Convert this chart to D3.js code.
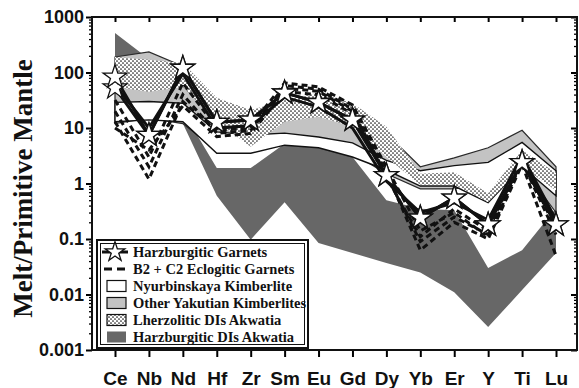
<!DOCTYPE html>
<html>
<head>
<meta charset="utf-8">
<script src="https://cdn.jsdelivr.net/npm/d3@7"></script>
<style>
  body { margin: 0; background: #fff; }
  svg { display: block; }
</style>
</head>
<body>
<svg id="chart"></svg>
<script>
// element order along the x axis
const elements = ["Ce", "Nb", "Nd", "Hf", "Zr", "Sm", "Eu", "Gd", "Dy", "Yb", "Er", "Y", "Ti", "Lu"];
const yTicks = [0.001, 0.01, 0.1, 1, 10, 100, 1000];
const yTickLabels = ["0.001", "0.01", "0.1", "1", "10", "100", "1000"];

// fields (upper / lower envelopes)
const harzDIsUpper = [515, 175, 20, 1.9, 1.9, 5.2, 4.4, 3.0, 0.5, 0.35, 0.33, 0.03, 0.063, 0.36];
const harzDIsLower = [15, 20, 12, 0.6, 0.097, 0.46, 0.085, 0.056, 0.037, 0.025, 0.011, 0.0026, 0.012, 0.056];
const otherYakUpper = [190, 235, 130, 25, 15, 25, 28, 20, 8, 2.0, 2.9, 4.4, 9.1, 2.0];
const otherYakLower = [12, 15, 12, 4, 4, 6, 5, 3.5, 1.5, 0.8, 0.8, 1.0, 2.0, 0.3];
const nyurbUpper = [29, 30, 28, 8.5, 7.5, 8.1, 6.9, 5.4, 2.6, 1.7, 2.1, 2.4, 5.5, 1.7];
const nyurbLower = [13, 14, 13, 3.5, 3.5, 4.9, 4.4, 3.0, 1.75, 0.9, 0.9, 0.45, 2.0, 0.6];
const lherzUpper = [190, 170, 148, 35, 21, 32, 43, 28, 10.5, 1.5, 1.6, 0.67, 4.0, 1.55];
const lherzLower = [55, 45, 55, 13, 4.6, 13, 16, 10.5, 3, 0.95, 0.95, 0.46, 2.0, 0.75];

// harzburgitic garnets (solid, first two carry stars)
const harzGt1 = [83, 7.4, 120, 12.7, 14, 43, 29, 14, 1.4, 0.24, 0.55, 0.18, 2.4, 0.18];
const harzGt2 = [53, 7.4, 120, 12.7, 14, 43, 29, 14, 1.4, 0.24, 0.55, 0.18, 2.4, 0.18];
const harzGt3 = [60, 10, 95, 10, 11, 36, 24, 10, 1.1, 0.3, 0.45, 0.22, 3.2, 0.22];

// B2 + C2 eclogitic garnets (dashed)
const eclGt1 = [32, 3, 65, 10, 11, 65, 55, 26, 2.0, 0.14, 0.3, 0.11, 2.5, 0.12];
const eclGt2 = [20, 2, 40, 8, 9, 58, 50, 22, 1.6, 0.063, 0.2, 0.1, 2.2, 0.05];
const eclGt3 = [13, 1.2, 30, 9, 10, 52, 46, 20, 1.4, 0.09, 0.25, 0.12, 2.8, 0.15];
const eclGt4 = [10, 4, 25, 7, 8, 45, 40, 18, 1.3, 0.11, 0.35, 0.14, 3.0, 0.2];

const legendLabels = [
  "Harzburgitic Garnets",
  "B2 + C2 Eclogitic Garnets",
  "Nyurbinskaya Kimberlite",
  "Other Yakutian Kimberlites",
  "Lherzolitic DIs Akwatia",
  "Harzburgitic DIs Akwatia"
];

const svgWidth = 579;
const svgHeight = 388;
const plot = { left: 92, right: 577, top: 17, bottom: 350 };

const svg = d3.select("#chart").attr("width", svgWidth).attr("height", svgHeight);

const x = d3.scalePoint().domain(elements).range([115, 556]);
const y = d3.scaleLog().domain([0.001, 1000]).range([plot.bottom, plot.top]);

// dotted fill pattern
const defs = svg.append("defs");
const pat = defs.append("pattern")
  .attr("id", "dots")
  .attr("width", 4).attr("height", 4)
  .attr("patternUnits", "userSpaceOnUse");
pat.append("rect").attr("width", 4).attr("height", 4).attr("fill", "#fff");
pat.append("circle").attr("cx", 1).attr("cy", 1).attr("r", 0.85).attr("fill", "#1a1a1a");
pat.append("circle").attr("cx", 3).attr("cy", 3).attr("r", 0.85).attr("fill", "#1a1a1a");

defs.append("clipPath").attr("id", "clip")
  .append("rect")
  .attr("x", plot.left).attr("y", plot.top)
  .attr("width", plot.right - plot.left).attr("height", plot.bottom - plot.top);

const g = svg.append("g").attr("clip-path", "url(#clip)");

const band = (upper, lower) => elements.map((el, i) => ({ el, hi: upper[i], lo: lower[i] }));
const area = d3.area().x((d) => x(d.el)).y0((d) => y(d.lo)).y1((d) => y(d.hi));
const line = d3.line().x((d) => x(d.el)).y((d) => y(d.v));
const series = (vals) => elements.map((el, i) => ({ el, v: vals[i] }));

// Harzburgitic DIs Akwatia
g.append("path").datum(band(harzDIsUpper, harzDIsLower))
  .attr("d", area).attr("fill", "#676767");

// Other Yakutian Kimberlites
g.append("path").datum(band(otherYakUpper, otherYakLower))
  .attr("d", area).attr("fill", "#c3c3c3")
  .attr("stroke", "#2a2a2a").attr("stroke-width", 1.2);

// Nyurbinskaya Kimberlite
g.append("path").datum(band(nyurbUpper, nyurbLower))
  .attr("d", area).attr("fill", "#fff")
  .attr("stroke", "#111").attr("stroke-width", 1.4);

// Lherzolitic DIs Akwatia
g.append("path").datum(band(lherzUpper, lherzLower))
  .attr("d", area).attr("fill", "url(#dots)");

// eclogitic garnets
[eclGt1, eclGt2, eclGt3, eclGt4].forEach((vals) => {
  g.append("path").datum(series(vals))
    .attr("d", line).attr("fill", "none")
    .attr("stroke", "#111").attr("stroke-width", 3)
    .attr("stroke-dasharray", "6,4");
});

// harzburgitic garnets
[harzGt3, harzGt2, harzGt1].forEach((vals) => {
  g.append("path").datum(series(vals))
    .attr("d", line).attr("fill", "none")
    .attr("stroke", "#111").attr("stroke-width", 3)
    .attr("stroke-linejoin", "round");
});

const star = d3.symbol().type(d3.symbolStar).size(175);
[harzGt2, harzGt1].forEach((vals) => {
  svg.append("g").selectAll("path").data(series(vals)).join("path")
    .attr("d", star)
    .attr("transform", (d) => `translate(${x(d.el)},${y(d.v)})`)
    .attr("fill", "#fff").attr("stroke", "#111").attr("stroke-width", 1.3);
});

// axes
const minors = [];
for (let e = -3; e < 3; e++) for (let k = 2; k <= 9; k++) minors.push(k * Math.pow(10, e));

const fontSans = "'Liberation Sans', Arial, sans-serif";

svg.append("g").attr("transform", `translate(${plot.left},0)`)
  .call(d3.axisLeft(y).tickValues(minors).tickSize(3).tickFormat(""))
  .call((s) => s.select(".domain").remove())
  .selectAll("line").attr("stroke-width", 1.3);

svg.append("g").attr("transform", `translate(${plot.left},0)`)
  .call(d3.axisLeft(y).tickValues(yTicks).tickSize(6).tickPadding(2)
    .tickFormat((d, i) => yTickLabels[i]))
  .call((s) => s.select(".domain").remove())
  .call((s) => s.selectAll("line").attr("stroke-width", 2))
  .selectAll("text")
  .style("font-family", fontSans).style("font-weight", "bold")
  .style("font-size", "18px").attr("fill", "#111");

svg.append("g").attr("transform", `translate(${plot.right},0)`)
  .call(d3.axisRight(y).tickValues(minors).tickSize(-3).tickFormat(""))
  .call((s) => s.select(".domain").remove())
  .selectAll("line").attr("stroke-width", 1.3);

svg.append("g").attr("transform", `translate(${plot.right},0)`)
  .call(d3.axisRight(y).tickValues(yTicks).tickSize(-6).tickFormat(""))
  .call((s) => s.select(".domain").remove())
  .selectAll("line").attr("stroke-width", 2);

svg.append("g").attr("transform", `translate(0,${plot.top})`)
  .call(d3.axisTop(x).tickSize(-5).tickFormat(""))
  .call((s) => s.select(".domain").remove())
  .selectAll("line").attr("stroke-width", 2);

svg.append("g").attr("transform", `translate(0,${plot.bottom})`)
  .call(d3.axisBottom(x).tickSize(7))
  .call((s) => s.select(".domain").remove())
  .call((s) => s.selectAll("line").attr("stroke-width", 2))
  .selectAll("text")
  .attr("y", 35).attr("dy", 0)
  .style("font-family", fontSans).style("font-weight", "bold")
  .style("font-size", "19px").attr("fill", "#111");

// frame
svg.append("rect")
  .attr("x", plot.left).attr("y", plot.top)
  .attr("width", plot.right - plot.left).attr("height", plot.bottom - plot.top)
  .attr("fill", "none").attr("stroke", "#111").attr("stroke-width", 2);

// y axis title
svg.append("text")
  .attr("transform", `translate(32,${(plot.top + plot.bottom) / 2 + 5}) rotate(-90)`)
  .attr("text-anchor", "middle")
  .style("font-family", "'Liberation Serif', 'Times New Roman', serif")
  .style("font-weight", "bold").style("font-size", "27px")
  .attr("fill", "#111")
  .text("Melt/Primitive Mantle");

// legend
const lg = svg.append("g");
lg.append("rect").attr("x", 97).attr("y", 240).attr("width", 211).attr("height", 108)
  .attr("fill", "#fff").attr("stroke", "#111").attr("stroke-width", 2);
lg.append("rect").attr("x", 100.5).attr("y", 243.5).attr("width", 204).attr("height", 101)
  .attr("fill", "none").attr("stroke", "#111").attr("stroke-width", 1);

const rowY = (i) => 252 + i * 17;
lg.append("line").attr("x1", 102).attr("x2", 128).attr("y1", rowY(0)).attr("y2", rowY(0))
  .attr("stroke", "#111").attr("stroke-width", 3);
lg.append("path").attr("d", d3.symbol().type(d3.symbolStar).size(120))
  .attr("transform", `translate(115,${rowY(0)})`)
  .attr("fill", "#fff").attr("stroke", "#111").attr("stroke-width", 1.3);
lg.append("line").attr("x1", 104).attr("x2", 127).attr("y1", rowY(1)).attr("y2", rowY(1))
  .attr("stroke", "#111").attr("stroke-width", 3).attr("stroke-dasharray", "8,5");

const swatchFills = ["#fff", "#c3c3c3", "url(#dots)", "#676767"];
swatchFills.forEach((f, k) => {
  lg.append("rect").attr("x", 107).attr("y", rowY(k + 2) - 5.5)
    .attr("width", 19).attr("height", 11)
    .attr("fill", f).attr("stroke", f === "#676767" ? "none" : "#111").attr("stroke-width", 1.2);
});

lg.selectAll("text.leg").data(legendLabels).join("text")
  .attr("class", "leg")
  .attr("x", 133).attr("y", (d, i) => rowY(i) + 5)
  .style("font-family", "'Liberation Serif', 'Times New Roman', serif")
  .style("font-weight", "bold").style("font-size", "14.5px")
  .attr("fill", "#111")
  .text((d) => d);
</script>
</body>
</html>
